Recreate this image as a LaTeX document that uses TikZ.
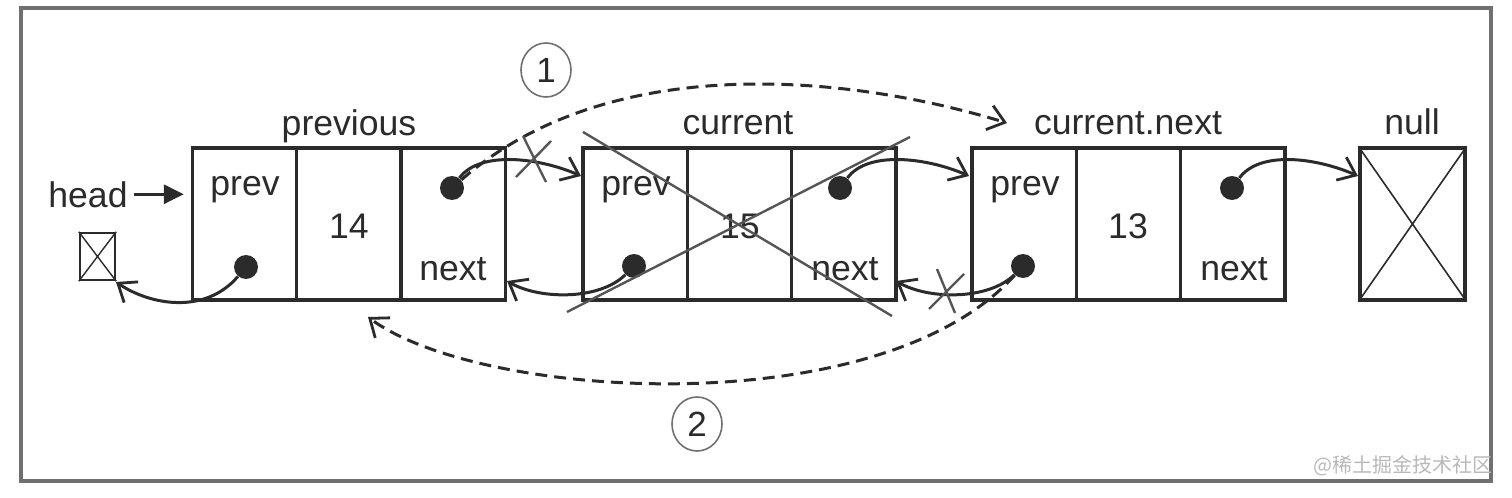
\documentclass[tikz,border=0pt]{standalone}
\usepackage{fontspec}
\setmainfont{Liberation Sans}
\newfontfamily\cjk{Noto Sans CJK SC}
\usetikzlibrary{arrows.meta,shapes.geometric}
\definecolor{ink}{HTML}{2B2B2B}
\definecolor{framegray}{HTML}{707070}
\definecolor{strikegray}{HTML}{555555}
\begin{document}
\begin{tikzpicture}[x=0.5pt,y=-0.5pt,
  cell/.style={draw=ink, line width=1.6pt, minimum width=52.15pt, minimum height=76pt, inner sep=0pt},
  lbl/.style={font=\fontsize{17.8}{20}\selectfont, text=ink, inner sep=0pt, anchor=base},
  dot/.style={circle, fill=ink, minimum size=12pt, inner sep=0pt},
  link/.style={draw=ink, line width=1.5pt, -{Straight Barb[length=8pt,width=12.5pt,line width=1.4pt]}},
  jump/.style={link, dash pattern=on 6pt off 3.5pt},
  strike/.style={draw=strikegray, line width=1.2pt},
  numc/.style={ellipse, draw=framegray, line width=0.8pt, minimum width=25pt, minimum height=27pt, inner sep=0pt, font=\fontsize{17.5}{20}\selectfont, text=ink},
  xbox/.style={draw=ink, line width=1.2pt, inner sep=0pt}
]
\useasboundingbox[fill=white] (0,0) rectangle (1512,498);
\draw[draw=framegray, line width=1.6pt] (21,8) rectangle (1491,481);

% cells
\node[cell] (p1) at (244.5,224) {};
\node[cell] (p2) at (348.8,224) {};
\node[cell] (p3) at (453.1,224) {};
\node[cell] (c1) at (635.2,224) {};
\node[cell] (c2) at (739.5,224) {};
\node[cell] (c3) at (843.8,224) {};
\node[cell] (n1) at (1024.2,224) {};
\node[cell] (n2) at (1128.5,224) {};
\node[cell] (n3) at (1232.8,224) {};

% null box
\node[xbox, line width=1.6pt, minimum width=52.5pt, minimum height=76pt] (nb) at (1412.5,224) {};
\draw[draw=ink, line width=0.8pt] (nb.north west) -- (nb.south east) (nb.south west) -- (nb.north east);
% head box
\node[xbox, minimum width=17.5pt, minimum height=23.5pt] (hb) at (97.5,256.5) {};
\draw[draw=ink, line width=0.7pt] (hb.north west) -- (hb.south east) (hb.south west) -- (hb.north east);

% titles
\node[lbl] (tprev) at (349,135) {previous};
\node[lbl] (tcur) at (738,134) {current};
\node[lbl] (tnext) at (1128,134) {current.next};
\node[lbl] (tnull) at (1412,134) {null};

% cell texts
\node[lbl] (lp1) at (245,195) {prev};
\node[lbl] (lp2) at (349,238) {14};
\node[lbl] (lp3) at (453,280) {next};
\node[lbl] (lc1) at (636,195) {prev};
\node[lbl] (lc2) at (740,238) {15};
\node[lbl] (lc3) at (845,280) {next};
\node[lbl] (ln1) at (1025,195) {prev};
\node[lbl] (ln2) at (1128,238) {13};
\node[lbl] (ln3) at (1234,280) {next};

% head
\node[lbl] (headlbl) at (88,207) {head};
\draw[draw=ink, line width=1.7pt, -{Triangle[length=10pt,width=9.5pt]}, shorten >=3.5pt] ([xshift=3pt]headlbl.east) -- (p1.west |- headlbl.east);

% dots
\node[dot] (dp1) at (246,267) {};
\node[dot] (dp3) at (452,188) {};
\node[dot] (dc1) at (634,266) {};
\node[dot] (dc3) at (840,188) {};
\node[dot] (dn1) at (1023,266) {};
\node[dot] (dn3) at (1232,188) {};

% arrow end points
\coordinate (tc) at (581,176);
\coordinate (tn) at (969,176);
\coordinate (tz) at (1358,176);
\coordinate (th) at (116,282);
\coordinate (tp) at (507,281);
\coordinate (tcr) at (896,281);
\coordinate (td1) at (1007,123);
\coordinate (td2) at (368,317);

% forward links
\draw[link] (dp3) .. controls (480,150) and (540,158) .. (tc);
\draw[link] (dc3) .. controls (868,150) and (928,158) .. (tn);
\draw[link] (dn3) .. controls (1260,150) and (1317,158) .. (tz);
% backward links
\draw[link] (dp1) .. controls (205,315) and (150,305) .. (th);
\draw[link] (dc1) .. controls (600,300) and (540,300) .. (tp);
\draw[link] (dn1) .. controls (989,300) and (929,300) .. (tcr);

% dashed new links
\draw[jump] (dp3) .. controls (610,50) and (850,75) .. (td1);
\draw[jump] (dn1) .. controls (880,425) and (480,400) .. (td2);

% cut marks
\draw[strike] (523,136) -- (546,182) (516,177) -- (551,141);
\draw[strike] (937,269) -- (955,313) (929,309) -- (964,274);

% strike-through of current
\draw[strike] (583,132) -- (892,316);
\draw[strike] (567,312) -- (910,137);

% step numbers
\node[numc] (s1) at (546,70) {1};
\node[numc] (s2) at (697,424) {2};

% watermark
\node[anchor=east, inner sep=0pt, font=\cjk\fontsize{10}{12}\selectfont, text=gray!55] (wm) at (1493,466) {@稀土掘金技术社区};
\end{tikzpicture}
\end{document}
